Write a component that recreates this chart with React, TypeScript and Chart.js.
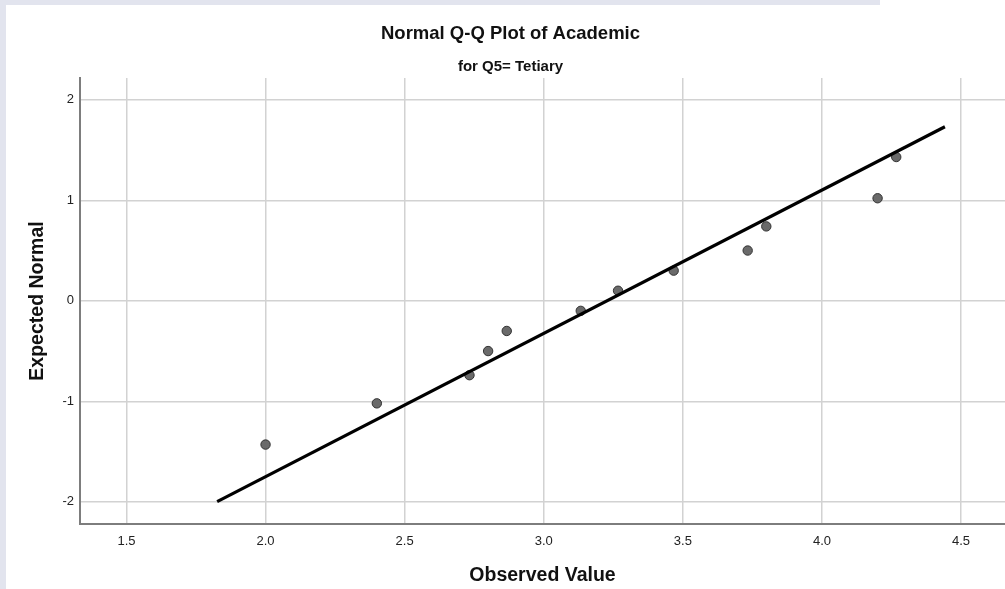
import React, { useEffect, useRef } from "react";
import { Chart, registerables } from "chart.js";

Chart.register(...registerables);

// Observed scale scores and their expected normal quantiles
const observed = [2.0, 2.4, 2.733, 2.8, 2.867, 3.133, 3.267, 3.467, 3.733, 3.8, 4.2, 4.267];
const expectedNormal = [-1.43, -1.02, -0.74, -0.5, -0.3, -0.1, 0.1, 0.3, 0.5, 0.74, 1.02, 1.43];

// Reference line endpoints (observed, expected)
const refLineX = [1.826, 4.442];
const refLineY = [-1.997, 1.731];

// Axis ticks
const xTicks = [1.5, 2.0, 2.5, 3.0, 3.5, 4.0, 4.5];
const yTicks = [-2, -1, 0, 1, 2];

const FONT = '"Liberation Sans", Arial, Helvetica, sans-serif';
const GRID = "#d2d2d2";
const AXIS = "#7d7d7d";
const TEXT = "#111111";

const pageBackground = {
  id: "pageBackground",
  beforeDraw(chart: any) {
    const { ctx, width, height } = chart;
    ctx.save();
    ctx.fillStyle = "#e2e4ee";
    ctx.fillRect(0, 0, width, height);
    ctx.fillStyle = "#ffffff";
    ctx.fillRect(6, 5, width - 6, height - 5);
    ctx.fillRect(880, 0, width - 880, 5);
    ctx.restore();
  },
};

export default function App() {
  const canvasRef = useRef<HTMLCanvasElement>(null);

  useEffect(() => {
    const canvas = canvasRef.current;
    if (!canvas) return;
    const chart = new Chart(canvas, {
      type: "scatter",
      data: {
        datasets: [
          {
            type: "line",
            label: "Reference",
            data: refLineX.map((x, i) => ({ x, y: refLineY[i] })),
            borderColor: "#000000",
            borderWidth: 3.2,
            borderCapStyle: "butt",
            pointRadius: 0,
            fill: false,
            tension: 0,
            order: 0,
          },
          {
            type: "scatter",
            label: "Academic",
            data: observed.map((x, i) => ({ x, y: expectedNormal[i] })),
            backgroundColor: "#6a6a6a",
            borderColor: "#333333",
            borderWidth: 1,
            pointRadius: 4.7,
            order: 1,
          },
        ],
      },
      options: {
        responsive: false,
        animation: false,
        devicePixelRatio: 1,
        layout: { autoPadding: false, padding: { left: 16, right: 0, top: 0, bottom: 0 } },
        plugins: {
          legend: { display: false },
          tooltip: { enabled: false },
          title: {
            display: true,
            text: "Normal Q-Q Plot of Academic",
            color: TEXT,
            font: { family: FONT, size: 18.5, weight: "bold", lineHeight: 1.2 },
            padding: { top: 22.4, bottom: 0 },
          },
          subtitle: {
            display: true,
            text: "for Q5= Tetiary",
            color: TEXT,
            font: { family: FONT, size: 15, weight: "bold", lineHeight: 1.2 },
            padding: { top: 13.4, bottom: 2 },
          },
        },
        scales: {
          x: {
            type: "linear",
            min: 1.333,
            max: 4.658,
            afterBuildTicks: (scale: any) => {
              scale.ticks = xTicks.map((value) => ({ value }));
            },
            afterFit: (scale: any) => {
              scale.height = 65;
              scale.paddingLeft = 0;
              scale.paddingRight = 0;
            },
            ticks: {
              callback: (v: any) => Number(v).toFixed(1),
              padding: 10,
              color: "#222222",
              font: { family: FONT, size: 13 },
              maxRotation: 0,
              autoSkip: false,
            },
            grid: { color: GRID, lineWidth: 1.5, drawTicks: false },
            border: { color: AXIS, width: 2 },
            title: {
              display: true,
              text: "Observed Value",
              color: TEXT,
              font: { family: FONT, size: 19.5, weight: "bold", lineHeight: 1.2 },
              padding: { top: 0, bottom: 2 },
            },
          },
          y: {
            type: "linear",
            min: -2.22,
            max: 2.216,
            afterBuildTicks: (scale: any) => {
              scale.ticks = yTicks.map((value) => ({ value }));
            },
            afterFit: (scale: any) => {
              scale.width = 64;
              scale.paddingTop = 0;
              scale.paddingBottom = 0;
            },
            ticks: {
              callback: (v: any) => String(v),
              padding: 6,
              color: "#222222",
              font: { family: FONT, size: 13 },
              autoSkip: false,
            },
            grid: { color: GRID, lineWidth: 1.5, drawTicks: false },
            border: { color: AXIS, width: 2 },
            title: {
              display: true,
              text: "Expected Normal",
              color: TEXT,
              font: { family: FONT, size: 19.5, weight: "bold", lineHeight: 1.2 },
              padding: { top: 10.3, bottom: 0 },
            },
          },
        },
      },
      plugins: [pageBackground],
    } as any);
    return () => chart.destroy();
  }, []);

  return (
    <div style={{ position: "fixed", left: 0, top: 0, width: 1005, height: 589, background: "#ffffff" }}>
      <canvas ref={canvasRef} width={1005} height={589} style={{ display: "block", width: 1005, height: 589 }} />
    </div>
  );
}
